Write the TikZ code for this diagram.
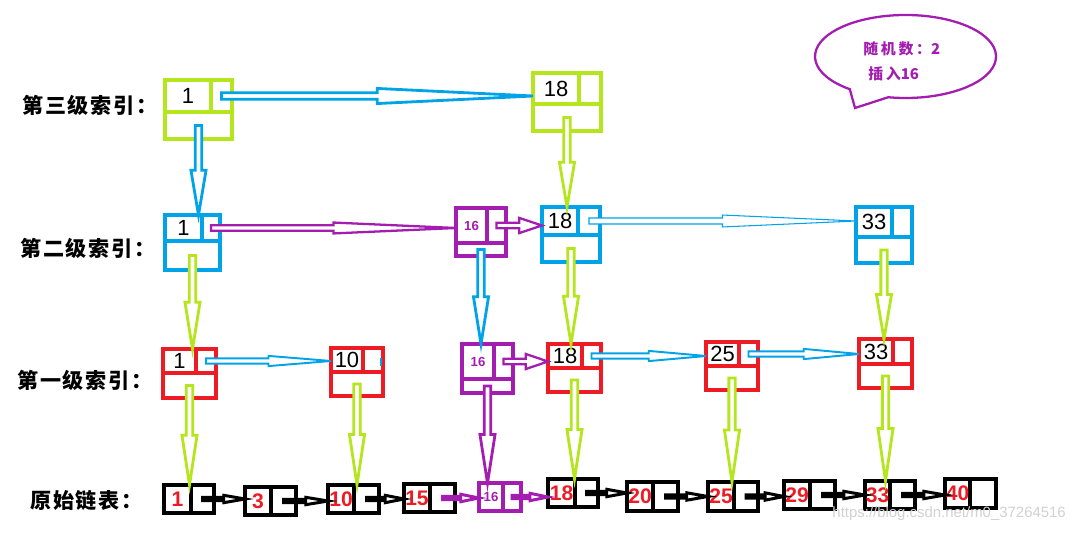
\documentclass[tikz,border=0pt]{standalone}
\usepackage{fontspec}
\setmainfont{Liberation Sans}
\newfontfamily\cjk{Noto Sans CJK SC}
\usetikzlibrary{calc}

\definecolor{lvgreen}{RGB}{181,230,29}
\definecolor{lvblue}{RGB}{0,162,232}
\definecolor{lvred}{RGB}{237,28,36}
\definecolor{lvpurple}{RGB}{163,29,176}

\tikzset{
  box line/.style={line width=1.8pt},
  shaft w/.store in=\sw, head w/.store in=\hw,
  shaft w=1.8pt, head w=4.3pt,
  fat/.style={line width=1.6pt, fill=white, shaft w=1.8pt, head w=4.3pt},
  mid/.style={line width=1.3pt, fill=white, shaft w=1.6pt, head w=3.1pt},
  thin/.style={line width=0.6pt, fill=white, shaft w=1.7pt, head w=3.4pt},
  slim/.style={line width=1.1pt, fill=white, shaft w=1.45pt, head w=2.9pt},
  short/.style={line width=1.3pt, fill=white, shaft w=1.6pt, head w=4.3pt},
  tiny/.style={line width=1.7pt, fill=white, shaft w=0.9pt, head w=2.1pt},
  level/.style={font=\cjk\bfseries\fontsize{12}{14}\selectfont\addfontfeature{LetterSpace=8}, anchor=west, inner sep=0pt},
  bubble/.style={font=\cjk\bfseries\fontsize{8.5}{10}\selectfont\addfontfeature{LetterSpace=18}, text=lvpurple, anchor=west, inner sep=0pt}
}

% index node: name, colour, left, top, right, bottom, divider x, divider y, value
\newcommand\idxbox[9]{%
  \node[draw=#2, box line, inner sep=0pt, outer sep=0pt,
    minimum width={(#5-#3)*0.02cm}, minimum height={(#6-#4)*0.02cm}]
    (#1) at ({(#3+#5)/2},{(#4+#6)/2}) {};
  \draw[#2, box line] (#7,#4) -- (#7,#8) (#3,#8) -- (#5,#8);
  \coordinate (#1-p) at ({(#7+#5)/2},{(#4+#8)/2});
  \coordinate (#1-d) at ({(#3+#5)/2},{(#8+#6)/2});
  \node[font=\fontsize{12.5}{13}\selectfont] (#1-v) at ({(#3+#7)/2},{(#4+#8)/2}) {#9};
}
% list node: name, colour, left, top, right, bottom, divider x, value
\newcommand\listbox[8]{%
  \node[draw=#2, box line, inner sep=0pt, outer sep=0pt,
    minimum width={(#5-#3)*0.02cm}, minimum height={(#6-#4)*0.02cm}]
    (#1) at ({(#3+#5)/2},{(#4+#6)/2}) {};
  \draw[#2, box line] (#7,#4) -- (#7,#6);
  \coordinate (#1-p) at ({(#7+#5)/2},{(#4+#6)/2});
  \node (#1-v) at ({(#3+#7)/2},{(#4+#6)/2}) {#8};
}
% hollow arrow from #2 to #3
\newcommand\paint[3][]{%
  \draw[#1] let \p1=(#2), \p2=(#3),
      \n1={atan2(\y2-\y1,\x2-\x1)}, \n2={veclen(\x2-\x1,\y2-\y1)} in
    [shift={(\p1)}, rotate=\n1]
    (0pt,-\sw) -- ({\n2*0.5pt},-\sw) -- ({\n2*0.5pt},-\hw) -- ({\n2*1pt},0pt)
    -- ({\n2*0.5pt},\hw) -- ({\n2*0.5pt},\sw) -- (0pt,\sw) -- cycle;
}
\newcommand\pv[1]{\textcolor{lvpurple}{\bfseries\fontsize{7.5}{8}\selectfont #1}}
\newcommand\rv[1]{\textcolor{lvred}{\bfseries\fontsize{12}{13}\selectfont #1}}
\newcommand\dg[1]{{\addfontfeature{LetterSpace=0}#1}}

\begin{document}
\begin{tikzpicture}[x=0.02cm, y=-0.02cm]
  \useasboundingbox (0,0) rectangle (1079,533);

  \node[level] (l3) at (22,105) {第三级索引：};
  \node[level] (l2) at (20,248) {第二级索引：};
  \node[level] (l1) at (17,380) {第一级索引：};
  \node[level] (l0) at (30,500) {原始链表：};

  % third level
  \idxbox{ta}{lvgreen}{165}{80}{232}{139}{211}{112}{1}
  \idxbox{tb}{lvgreen}{533}{73}{601}{131}{579}{104}{18}
  % second level
  \idxbox{sa}{lvblue}{165}{215}{220}{270}{202}{241}{1}
  \idxbox{sp}{lvpurple}{456}{208}{506}{256}{487}{243}{\pv{16}}
  \idxbox{sb}{lvblue}{542}{207}{600}{262}{578}{235}{18}
  \idxbox{sc}{lvblue}{856}{207}{912}{263}{892}{237}{33}
  % first level
  \idxbox{fa}{lvred}{163}{349}{216}{398}{196}{373}{1}
  \idxbox{fb}{lvred}{331}{348}{383}{396}{363}{372}{10}
  \idxbox{fp}{lvpurple}{462}{344}{513}{393}{494}{379}{\pv{16}}
  \idxbox{fc}{lvred}{548}{344}{601}{392}{582}{368}{18}
  \idxbox{fd}{lvred}{706}{342}{758}{390}{739}{366}{25}
  \idxbox{fe}{lvred}{859}{339}{912}{388}{893}{364}{33}
  % original list
  \listbox{oa}{black}{164}{485}{214}{513}{191}{\rv{1}}
  \listbox{ob}{black}{245}{487}{296}{515}{271}{\rv{3}}
  \listbox{oc}{black}{328}{485}{379}{513}{354}{\rv{10}}
  \listbox{od}{black}{404}{484}{455}{512}{430}{\rv{15}}
  \listbox{op}{lvpurple}{479}{483}{521}{511}{503}{\pv{16}}
  \listbox{oe}{black}{548}{479}{598}{507}{575}{\rv{18}}
  \listbox{of}{black}{627}{482}{678}{511}{653}{\rv{20}}
  \listbox{og}{black}{708}{482}{758}{511}{734}{\rv{25}}
  \listbox{oh}{black}{784}{481}{835}{509}{810}{\rv{29}}
  \listbox{oi}{black}{865}{481}{915}{509}{890}{\rv{33}}
  \listbox{oj}{black}{945}{479}{996}{508}{970}{\rv{40}}

  % arrows
  \paint[fat, draw=lvblue]{ta-p}{ta-p -| tb.west}
  \paint[fat, draw=lvblue]{ta-d}{ta-d |- sa.north}
  \paint[fat, draw=lvgreen]{tb-d}{tb-d |- sb.north}
  \paint[mid, draw=lvpurple]{sa-p}{sa-p -| sp.west}
  \paint[short, draw=lvpurple]{sp-p}{sp-p -| sb.west}
  \paint[thin, draw=lvblue]{sb-p}{sb-p -| sc.west}
  \paint[fat, draw=lvgreen]{sa-d}{sa-d |- fa.north}
  \paint[fat, draw=lvblue]{sp-d}{sp-d |- fp.north}
  \paint[fat, draw=lvgreen]{sb-d}{sb-d |- fc.north}
  \paint[fat, draw=lvgreen]{sc-d}{sc-d |- fe.north}
  \paint[slim, draw=lvblue]{fa-p}{fa-p -| fb.west}
  \paint[short, draw=lvpurple]{fp-p}{fp-p -| fc.west}
  \paint[slim, draw=lvblue]{fc-p}{fc-p -| fd.west}
  \paint[slim, draw=lvblue]{fd-p}{fd-p -| fe.west}
  \draw[lvblue, line width=1.1pt] (381,358) -- (381,366);
  \paint[fat, draw=lvgreen]{fa-d}{fa-d |- oa.north}
  \paint[fat, draw=lvgreen]{fb-d}{fb-d |- oc.north}
  \paint[fat, draw=lvpurple]{fp-d}{fp-d |- op.north}
  \paint[fat, draw=lvgreen]{fc-d}{fc-d |- oe.north}
  \paint[fat, draw=lvgreen]{fd-d}{fd-d |- og.north}
  \paint[fat, draw=lvgreen]{fe-d}{fe-d |- oi.north}
  \foreach \a/\b in {oa/ob, ob/oc, oc/od, oe/of, of/og, og/oh, oh/oi, oi/oj}
    \paint[tiny, draw=black]{\a-p}{\a-p -| \b.west};
  \paint[tiny, draw=lvpurple]{od-p}{od-p -| op.west}
  \paint[tiny, draw=lvpurple]{op-p}{op-p -| oe.west}

  % callout
  \draw[lvpurple, line width=1.3pt] (849.8,89.2)
    arc[start angle=128, end angle=461, x radius=90.5, y radius=41.5] -- (855,108) -- cycle;
  \node[bubble] (rnd) at (863,49) {随机数：\dg{2}};
  \node[bubble] (ins) at (868,74) {插入\dg{16}};

  \node[anchor=east, text=black!18, font=\fontsize{8.5}{10}\selectfont] (mark) at (1072,514) {https://blog.csdn.net/m0\_37264516};
\end{tikzpicture}
\end{document}
